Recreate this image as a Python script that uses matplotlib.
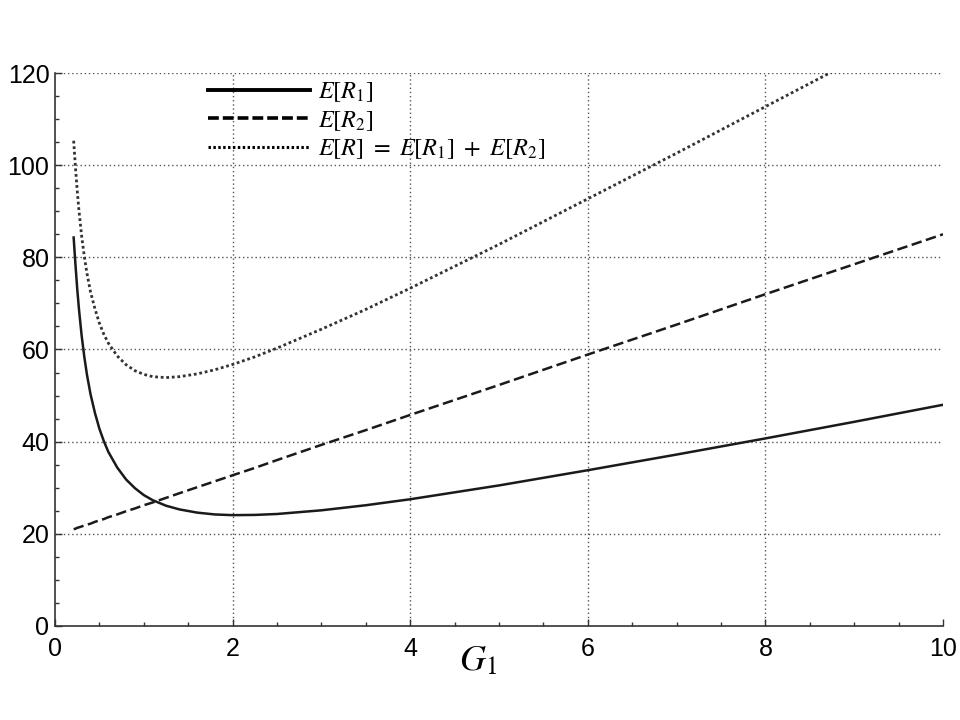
import numpy as np
import matplotlib
matplotlib.use("Agg")
import matplotlib.pyplot as plt
from matplotlib.ticker import MultipleLocator

plt.rcParams['font.family'] = ['Liberation Sans', 'DejaVu Sans']
plt.rcParams['mathtext.fontset'] = 'stix'

# values
g1 = [0.21, 0.23, 0.25, 0.27, 0.3, 0.33, 0.36, 0.4, 0.45, 0.5, 0.55, 0.6, 0.7,
      0.8, 0.9, 1.0, 1.1, 1.25, 1.4, 1.6, 1.8, 2.0, 2.25, 2.5, 3.0, 3.5, 4.0,
      5.0, 6.0, 7.0, 8.0, 9.0, 10.0]
er1 = [84.3, 78.5, 73.2, 68.7, 63.0, 58.4, 54.5, 50.3, 46.2, 42.8, 40.1, 37.8, 34.4,
       31.8, 29.9, 28.4, 27.3, 26.1, 25.3, 24.6, 24.2, 24.05, 24.1, 24.3, 25.1, 26.2, 27.5,
       30.5, 33.8, 37.2, 40.7, 44.3, 48.0]
er2 = [21.0, 21.1, 21.3, 21.4, 21.6, 21.8, 22.0, 22.2, 22.6, 22.9, 23.2, 23.6, 24.2,
       24.9, 25.5, 26.2, 26.8, 27.8, 28.8, 30.1, 31.4, 32.7, 34.3, 36.0, 39.3, 42.5, 45.8,
       52.3, 58.9, 65.4, 72.0, 78.5, 85.0]
er = np.array(er1) + np.array(er2)

fig = plt.figure(figsize=(9.6, 7.2), dpi=100)
ax = fig.add_axes([0.0573, 0.1306, 0.925, 0.768])

c = '#1a1a1a'
ax.plot(g1, er1, color=c, lw=1.8, label=r'$E[R_1]$')
ax.plot(g1, er2, color=c, lw=1.8, dashes=(4.2, 1.8), label=r'$E[R_2]$')
ax.plot(g1, er, color='#333333', lw=2.0, dashes=(1, 1.0),
        label=r'$E[R]\ =\ E[R_1]\ +\ E[R_2]$')

ax.set_xlim(0, 10)
ax.set_ylim(0, 120)
ax.xaxis.set_major_locator(MultipleLocator(2))
ax.xaxis.set_minor_locator(MultipleLocator(0.5))
ax.yaxis.set_major_locator(MultipleLocator(20))
ax.yaxis.set_minor_locator(MultipleLocator(5))
ax.tick_params(which='both', direction='in', labelsize=18, colors='#333333', labelcolor='black')
ax.tick_params(which='major', length=5, width=1)
ax.tick_params(which='minor', length=3, width=1)
ax.tick_params(axis='x', pad=8)
ax.tick_params(axis='y', pad=4)

for s in ['top', 'right']:
    ax.spines[s].set_visible(False)
for s in ['left', 'bottom']:
    ax.spines[s].set_color('#333333')
    ax.spines[s].set_linewidth(1.2)

for y in range(20, 121, 20):
    ax.plot([0, 9.97], [y, y], color='#555555', lw=1, ls=(0, (1, 2)), zorder=0)
for x in range(2, 10, 2):
    ax.plot([x, x], [0, 120], color='#555555', lw=1, ls=(0, (1, 2)), zorder=0)

ax.set_xlabel(r'$G_1$', fontsize=26)
ax.xaxis.set_label_coords(0.476, -0.032)

leg = ax.legend(loc='upper left', bbox_to_anchor=(0.1723, 0.987), frameon=False,
                fontsize=17.5, handlelength=4.2, handletextpad=0.33, labelspacing=0.2,
                borderaxespad=0, borderpad=0)
lines = leg.get_lines()
for ln in lines:
    ln.set_color('black')
lines[0].set_linewidth(2.8)
lines[1].set_linewidth(2.6)
lines[1].set_dashes((3.0, 1.1))
lines[2].set_linewidth(2.2)
lines[2].set_dashes((0.8, 0.8))

fig.savefig('out.png', dpi=100)
